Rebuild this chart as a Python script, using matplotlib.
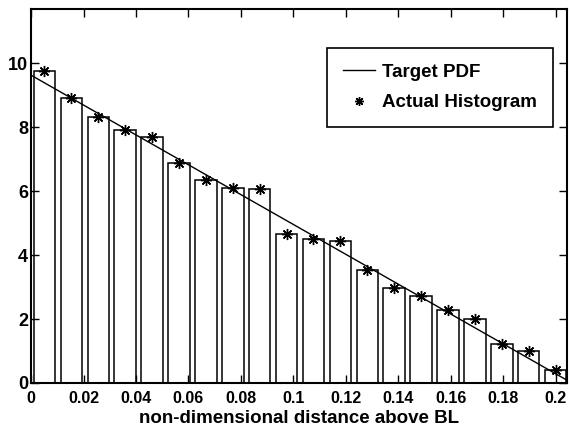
import matplotlib as mpl
mpl.use('Agg')
import matplotlib.pyplot as plt

mpl.rcParams['font.family'] = ['Liberation Sans', 'DejaVu Sans']
mpl.rcParams['font.weight'] = 'bold'

# histogram bin centres and heights
bin_width = 0.01025
bin_centres = [0.005125 + i * bin_width for i in range(20)]
heights = [9.75, 8.92, 8.33, 7.90, 7.68, 6.88, 6.35, 6.10, 6.08, 4.65,
           4.49, 4.45, 3.55, 2.96, 2.73, 2.28, 2.00, 1.21, 0.99, 0.40]

# target pdf (straight line)
pdf_x = [0.0, 0.205]
pdf_y = [9.63, 0.05]

xticks = [0, 0.02, 0.04, 0.06, 0.08, 0.1, 0.12, 0.14, 0.16, 0.18, 0.2]
xticklabels = ['0', '0.02', '0.04', '0.06', '0.08', '0.1', '0.12', '0.14',
               '0.16', '0.18', '0.2']
yticks = [0, 2, 4, 6, 8, 10]

fig = plt.figure(figsize=(5.7, 4.37), dpi=100)
ax = fig.add_axes([0.0544, 0.1236, 0.9403, 0.8558])

ax.bar(bin_centres, heights, width=0.8 * bin_width, color='white',
       edgecolor='black', linewidth=1.1)
line, = ax.plot(pdf_x, pdf_y, color='black', linewidth=1.0,
                label='Target PDF')
stars, = ax.plot(bin_centres, heights, linestyle='none', marker=(8, 2, 0),
                 markersize=8, color='black', markeredgewidth=1.0,
                 label='Actual Histogram')

ax.set_xlim(0, 0.2042)
ax.set_ylim(0, 11.7)
ax.set_xticks(xticks)
ax.set_xticklabels(xticklabels)
ax.set_yticks(yticks)
ax.tick_params(direction='in', top=True, right=True, length=6, width=1)
ax.tick_params(axis='x', labelsize=11.5, pad=6)
ax.tick_params(axis='y', labelsize=13, pad=2)
for s in ax.spines.values():
    s.set_linewidth(1.5)

ax.set_xlabel('non-dimensional distance above BL', fontsize=13.5,
              fontweight='bold', labelpad=3)

leg = ax.legend(handles=[line, stars], loc='upper right',
                bbox_to_anchor=(0.974, 0.896), fancybox=False, framealpha=1,
                edgecolor='black', fontsize=13.5, handlelength=1.7,
                handletextpad=0.4, borderpad=0.85, labelspacing=0.7,
                borderaxespad=0, markerscale=0.8)
leg.get_frame().set_linewidth(1.2)

fig.savefig('out.png', dpi=100)
